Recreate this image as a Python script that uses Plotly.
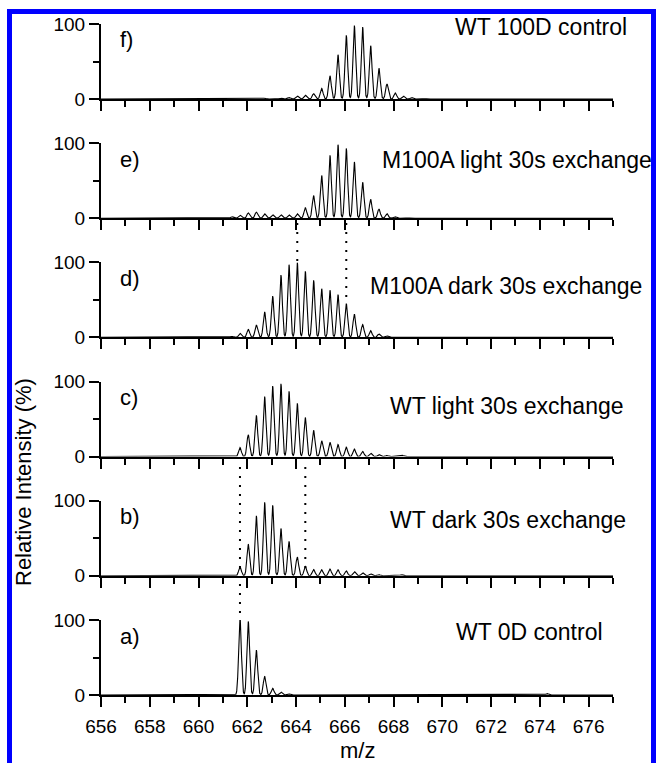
import numpy as np
import plotly.graph_objects as go

# ---------------- data ----------------
isotope_mz = [660.03, 660.36, 660.70, 661.03, 661.37, 661.70, 662.04, 662.37,
              662.71, 663.04, 663.38, 663.71, 664.05, 664.38, 664.72, 665.05,
              665.39, 665.72, 666.06, 666.39, 666.73, 667.06, 667.40, 667.73,
              668.07, 668.40, 668.74, 669.07, 669.41]

# relative intensities (%) for each isotope peak, panels f) ... a)
int_f_wt100d = [0.5, 0.5, 0.5, 0.7, 0.8, 1, 1, 1, 1.2, 1.2, 1.5, 2, 4, 5, 7, 14,
                31, 59, 85, 98, 96, 71, 41, 20, 8, 4, 2, 1, 0.5]
int_e_m100a_light = [0, 0.3, 0.5, 1, 2, 4, 7, 8, 6, 4.5, 4.5, 4.5, 6, 14, 30, 57,
                     84, 98, 93, 75, 48, 25, 12, 6, 2, 1, 0.5, 0, 0]
int_d_m100a_dark = [0, 0.3, 0.5, 0.8, 1.5, 5.4, 10.7, 16.6, 34, 55, 83, 97, 100,
                    88, 76, 65, 63, 57, 45, 31, 17, 9, 4.5, 2, 1, 0.5, 0, 0, 0]
int_c_wt_light = [0, 0.3, 0.3, 0.5, 1, 12, 29, 55, 80, 94, 97, 87, 71, 52, 35, 21,
                  19, 16, 12.5, 10, 7, 4.5, 2.7, 1.5, 0.8, 0.5, 0, 0, 0]
int_b_wt_dark = [0, 0, 0.3, 0.3, 0.5, 12, 42, 80, 98, 94, 63, 46, 25, 12.5, 8.5, 8,
                 9, 8, 6.5, 5.5, 4, 2.5, 1.5, 1, 0.5, 0, 0, 0, 0]
int_a_wt0d = [0, 0, 0, 0, 0.3, 103, 98, 60, 25, 9, 4, 1.5, 0.5, 0, 0, 0, 0, 0, 0,
              0, 0, 0, 0, 0, 0, 0, 0, 0, 0]

# small isolated bumps (m/z, %)
extra_f = ([], [])
extra_e = ([], [])
extra_d = ([], [])
extra_c = ([668.33], [1.5])
extra_b = ([668.33], [1.5])
extra_a = ([674.3], [2])

panel_letters = ["f)", "e)", "d)", "c)", "b)", "a)"]
panel_names = ["WT 100D control", "M100A light 30s exchange",
               "M100A dark 30s exchange", "WT light 30s exchange",
               "WT dark 30s exchange", "WT 0D control"]
panel_ints = [int_f_wt100d, int_e_m100a_light, int_d_m100a_dark,
              int_c_wt_light, int_b_wt_dark, int_a_wt0d]
panel_extra = [extra_f, extra_e, extra_d, extra_c, extra_b, extra_a]

x_range = [656, 677]
x_ticks = [656, 658, 660, 662, 664, 666, 668, 670, 672, 674, 676]
y_ticks = [0, 100]

# dotted guide lines (m/z)
guide_mz = [664.05, 666.06, 661.70, 664.38, 661.70]

# ---------------- layout geometry ----------------
W, H = 657, 763
PL, PR, PT, PB = 101, 613, 24, 695


def fx(px):
    return (px - PL) / (PR - PL)


def fy(py):
    return (PB - py) / (PB - PT)


FONT = "Liberation Sans, Arial, sans-serif"
SIGMA = 0.055
mz_axis = np.arange(x_range[0], x_range[1] + 0.0001, 0.004)

fig = go.Figure()
layout = dict(
    width=W, height=H,
    margin=dict(l=PL, r=W - PR, t=PT, b=H - PB),
    paper_bgcolor="white", plot_bgcolor="white",
    showlegend=False,
    font=dict(family=FONT, size=18, color="black"),
)

bottoms = [99 + 119.2 * i for i in range(6)]
annotations = []
for i in range(6):
    k = "" if i == 0 else str(i + 1)
    centers = list(isotope_mz) + list(panel_extra[i][0])
    heights = list(panel_ints[i]) + list(panel_extra[i][1])
    prof = np.zeros_like(mz_axis)
    for c, h in zip(centers, heights):
        prof += h * np.exp(-(mz_axis - c) ** 2 / (2 * SIGMA ** 2))
    fig.add_trace(go.Scatter(x=mz_axis, y=prof, mode="lines",
                             line=dict(color="black", width=1.1),
                             xaxis="x" + k, yaxis="y" + k, hoverinfo="skip"))
    bot = bottoms[i]
    top = bot - 75
    layout["xaxis" + k] = dict(
        domain=[0, 1], anchor="y" + k, range=x_range,
        showline=True, linecolor="black", linewidth=2,
        ticks="outside", tickvals=x_ticks, ticklen=10, tickwidth=2,
        tickcolor="black",
        minor=dict(ticks="outside", dtick=1, tick0=656, ticklen=6,
                   tickwidth=2, tickcolor="black", showgrid=False),
        showticklabels=(i == 5), tickfont=dict(size=19, family=FONT),
        ticklabelstandoff=3,
        showgrid=False, zeroline=False, fixedrange=True,
    )
    layout["yaxis" + k] = dict(
        domain=[fy(bot), fy(top)], anchor="x" + k, range=[0, 100],
        showline=True, linecolor="black", linewidth=2,
        ticks="outside", tickvals=y_ticks, ticklen=10, tickwidth=2,
        tickcolor="black",
        minor=dict(ticks="outside", tickvals=[50], ticklen=6, tickwidth=2,
                   tickcolor="black", showgrid=False),
        tickfont=dict(size=19, family=FONT), ticklabelstandoff=0,
        showgrid=False, zeroline=False, fixedrange=True,
    )

# panel letters
for i in range(6):
    annotations.append(dict(text=panel_letters[i], xref="paper", yref="paper",
                            x=fx(118), y=fy(bottoms[i] - 59), xanchor="left",
                            yanchor="middle", showarrow=False,
                            font=dict(size=22, family=FONT, color="black")))

# panel names
name_pos = [(453, 27), (380, 160), (368, 286), (388, 406), (388, 520), (454, 632)]
for i in range(6):
    px, py = name_pos[i]
    annotations.append(dict(text=panel_names[i], xref="paper", yref="paper",
                            x=fx(px), y=fy(py), xanchor="left", yanchor="middle",
                            showarrow=False,
                            font=dict(size=23, family=FONT, color="black")))

# axis titles
annotations.append(dict(text="Relative Intensity (%)", xref="paper", yref="paper",
                        x=fx(23), y=fy(482), xanchor="center", yanchor="middle",
                        textangle=-90, showarrow=False,
                        font=dict(size=22, family=FONT, color="black")))
annotations.append(dict(text="m/z", xref="paper", yref="paper",
                        x=fx(357), y=fy(750), xanchor="center", yanchor="middle",
                        showarrow=False,
                        font=dict(size=22, family=FONT, color="black")))
layout["annotations"] = annotations

# dotted guides and blue frame
guide_y = [(223, 262), (223, 303), (467, 568), (467, 568), (584, 618)]
shapes = []
for m, (y0, y1) in zip(guide_mz, guide_y):
    shapes.append(dict(type="line", xref="x", yref="paper", x0=m, x1=m,
                       y0=fy(y0), y1=fy(y1),
                       line=dict(color="black", width=2, dash="2px,7px")))
shapes.append(dict(type="rect", xref="paper", yref="paper",
                   x0=fx(9.5), x1=fx(653.5), y0=fy(11.5), y1=fy(800),
                   line=dict(color="#0000ff", width=5), fillcolor="rgba(0,0,0,0)"))
layout["shapes"] = shapes

fig.update_layout(**layout)
fig.write_html("out.html", config={"displayModeBar": False},
               post_script="document.body.style.margin='0';"
                           "document.body.style.overflow='hidden';")
